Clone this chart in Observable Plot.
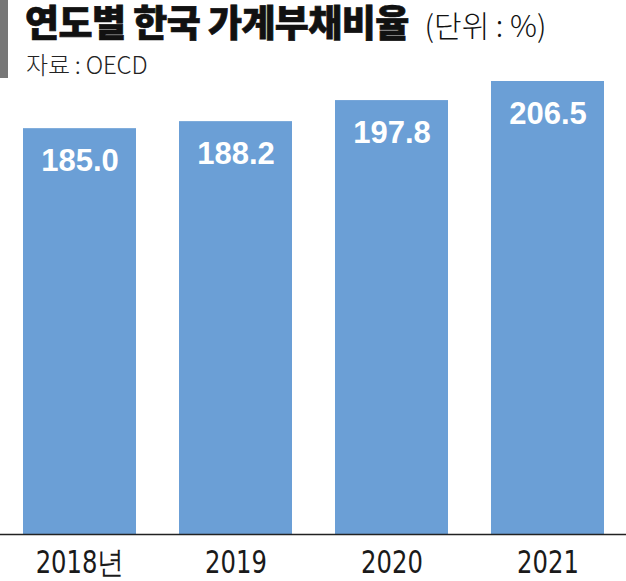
<!DOCTYPE html>
<html>
<head>
<meta charset="utf-8">
<script src="https://cdn.jsdelivr.net/npm/d3@7"></script>
<script src="https://cdn.jsdelivr.net/npm/@observablehq/plot@0.6"></script>
<style>
  html, body { margin: 0; padding: 0; background: #fff; }
  #wrap { position: relative; width: 626px; height: 581px; overflow: hidden; }
  #head { position: relative; width: 626px; height: 80px; }
  #accent { position: absolute; left: 0; top: 0; width: 8px; height: 78px; background: #777; }
  #title { position: absolute; left: 25px; top: 1px; white-space: nowrap; line-height: 40px;
           font-family: "Noto Sans CJK KR", "Noto Sans", sans-serif; color: #111; }
  #title .main { font-size: 37px; font-weight: 900; letter-spacing: -0.6px; -webkit-text-stroke: 0.7px #111; }
  #title .unit { font-size: 30px; font-weight: 300; margin-left: 16px; }
  #sub { position: absolute; left: 26px; top: 50px; white-space: nowrap; line-height: 28px;
         font-family: "Noto Sans CJK KR", sans-serif; font-size: 24px; font-weight: 300; color: #222;
         letter-spacing: -0.2px; }
  #chart { position: absolute; left: 0; top: 80px; }
</style>
</head>
<body>
<div id="wrap">
  <div id="head">
    <div id="accent"></div>
    <div id="title"><span class="main">연도별 한국 가계부채비율</span><span class="unit">(단위 : %)</span></div>
    <div id="sub">자료 : OECD</div>
  </div>
  <div id="chart"></div>
</div>
<script>
const years = ["2018", "2019", "2020", "2021"];
const values = [185.0, 188.2, 197.8, 206.5];
const labels = ["185.0", "188.2", "197.8", "206.5"];
const tickLabels = ["2018년", "2019", "2020", "2021"];

const data = years.map((y, i) => ({year: y, value: values[i], label: labels[i]}));

const chart = Plot.plot({
  width: 626,
  height: 501,
  marginLeft: 0,
  marginRight: 0,
  marginTop: 1,
  marginBottom: 47,
  style: {background: "transparent"},
  x: {domain: years, range: [22, 604], paddingInner: 0.278, paddingOuter: 0, label: null},
  y: {domain: [0, 206.5], range: [454, 1], axis: null},
  marks: [
    Plot.barY(data, {x: "year", y: "value", fill: "#6b9fd6"}),
    Plot.text(data, {
      x: "year", y: "value", text: "label", lineAnchor: "top", dy: 20,
      fill: "#fff", fontSize: 31, fontWeight: "bold",
      fontFamily: "'Liberation Sans', Arial, sans-serif"
    }),
    Plot.ruleY([0], {stroke: "#222", strokeWidth: 1.5}),
    Plot.axisX({
      tickSize: 0, tickPadding: 16, fontSize: 27, fill: "#1a1a1a",
      fontFamily: "'Liberation Sans Narrow', 'DejaVu Sans Condensed', 'Liberation Sans', sans-serif",
      tickFormat: d => tickLabels[years.indexOf(d)], label: null
    })
  ]
});
// stretch the tick labels vertically to mimic the condensed typeface
d3.select(chart).selectAll("g[aria-label='x-axis tick label'] text").each(function() {
  const t = this.getAttribute("transform") || "";
  this.setAttribute("transform", t + " scale(1,1.15)");
});
document.getElementById("chart").appendChild(chart);
</script>
</body>
</html>
